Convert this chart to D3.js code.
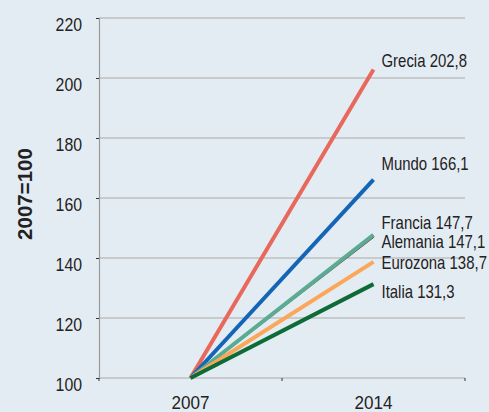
<!DOCTYPE html>
<html>
<head>
<meta charset="utf-8">
<script src="https://cdn.jsdelivr.net/npm/d3@7"></script>
<style>
	body { margin: 0; background: #e4ecf3; }
	svg { display: block; }
	text { font-family: "Liberation Sans", Arial, sans-serif; fill: #222; }
</style>
</head>
<body>
<svg id="chart" width="489" height="412"></svg>
<script>
/* chart data */
const years = ["2007", "2014"];
const countries = ["Grecia", "Mundo", "Alemania", "Francia", "Eurozona", "Italia"];
const start2007 = [100, 100, 100, 100, 100, 100];
const end2014 = [202.8, 166.1, 147.1, 147.7, 138.7, 131.3];
const endLabels = ["202,8", "166,1", "147,1", "147,7", "138,7", "131,3"];
const yTicks = [100, 120, 140, 160, 180, 200, 220];
const yTitle = "2007=100";

// styles per series
const colors = ["#e8685b", "#1565b7", "#7a1f14", "#5aab93", "#fba75a", "#0e6a36"];
const widths = [4, 4, 2.2, 4, 4, 4];
const labelDy = [-3, -10, 11, -6, 7, 13.5]; // hand placed like the original

const svg = d3.select("#chart");
const marginTop = 18, marginBottom = 34, marginLeft = 99, marginRight = 24;
const width = 489, height = 412;

const x = d3.scaleBand().domain(years).range([marginLeft, width - marginRight]);
const y = d3.scaleLinear().domain([100, 220]).range([height - marginBottom, marginTop]);
const cx = d => x(d) + x.bandwidth() / 2;

/* no narrow font installed, so squeeze regular text horizontally */
function narrowText(sel, px, py, str, anchor, sx) {
	return sel.append("text")
		.attr("transform", `translate(${px},${py}) scale(${sx},1)`)
		.attr("text-anchor", anchor)
		.style("font-size", "18px")
		.text(str);
}

/* gridlines */
svg.append("g")
	.selectAll("line")
	.data(yTicks)
	.join("line")
	.attr("x1", marginLeft)
	.attr("x2", width - marginRight)
	.attr("y1", d => y(d))
	.attr("y2", d => y(d))
	.attr("stroke", "#aaa")
	.attr("stroke-width", 1.2);

/* y axis */
const yAxis = svg.append("g")
	.attr("transform", `translate(${marginLeft},0)`)
	.call(d3.axisLeft(y).tickValues(yTicks).tickSize(3).tickFormat(""));
yAxis.select(".domain").attr("stroke", "#999").attr("stroke-width", 1.2);
yAxis.selectAll(".tick line").attr("stroke", "#333");

const yLabels = svg.append("g");
yTicks.forEach(t => narrowText(yLabels, marginLeft - 17, y(t) + 12.5, t, "end", 0.88));

// y title
svg.append("text")
	.attr("transform", `translate(32,194) rotate(-90)`)
	.attr("text-anchor", "middle")
	.style("font-weight", "bold")
	.style("font-size", "20.5px")
	.text(yTitle);

/* x axis: ticks at band edges, labels at band centres */
const xBottom = y(100);
const xEdges = [...years.map(d => x(d)), x.range()[1]];
svg.append("g")
	.selectAll("line")
	.data(xEdges)
	.join("line")
	.attr("x1", d => d)
	.attr("x2", d => d)
	.attr("y1", xBottom)
	.attr("y2", xBottom + 3)
	.attr("stroke", "#333");

const xLabels = svg.append("g");
years.forEach(d => narrowText(xLabels, cx(d), 409, d, "middle", 0.95));

/* series lines */
const line = d3.line().x(d => cx(d.year)).y(d => y(d.value));
const seriesLabels = svg.append("g");
countries.forEach((c, i) => {
	const pts = [
		{ year: years[0], value: start2007[i] },
		{ year: years[1], value: end2014[i] }
	];
	svg.append("path")
		.datum(pts)
		.attr("d", line)
		.attr("fill", "none")
		.attr("stroke", colors[i])
		.attr("stroke-width", widths[i]);

	narrowText(seriesLabels, cx(years[1]) + 8, y(end2014[i]) + labelDy[i],
		`${c} ${endLabels[i]}`, "start", 0.83);
});
</script>
</body>
</html>
